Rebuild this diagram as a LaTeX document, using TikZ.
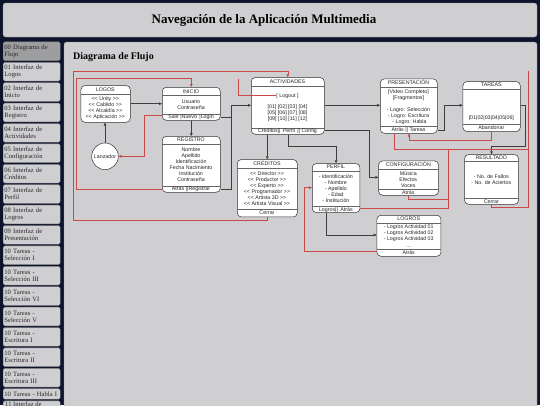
\documentclass[tikz,border=0pt]{standalone}
\usepackage{fontspec}
\setmainfont{Liberation Serif}
\newfontfamily\dsans{Liberation Sans}
\usetikzlibrary{arrows.meta}
\definecolor{bgnavy}{RGB}{14,20,46}
\definecolor{panel}{RGB}{207,207,210}
\definecolor{selbtn}{RGB}{158,158,160}
\definecolor{rline}{RGB}{205,72,72}
\definecolor{bline}{RGB}{62,62,62}
\newcommand\LL{\textless\textless}
\newcommand\GG{\textgreater\textgreater}
\newcommand\flt[4]{\node[txt] (#1) at (#2,#3) {#4};}
\tikzset{
 panelbox/.style={fill=panel, draw=black!45, line width=0.4pt, rounded corners=2.5pt},
 navbtn/.style={fill=panel, draw=black!50, line width=0.4pt, rounded corners=1.5pt, inner sep=0pt,
   anchor=north west, minimum width=57pt, text width=54.5pt, align=left,
   font=\fontsize{6.6}{7}\selectfont, text=black!85},
 flowbox/.style={draw=black!80, fill=white, line width=0.5pt, rounded corners=4pt, inner sep=0pt, anchor=north west},
 sepl/.style={draw=black!60, line width=0.35pt},
 txt/.style={inner sep=0pt, font=\dsans\fontsize{5.3}{6}\selectfont, text height=4.2pt, text depth=0.6pt, text=black!85},
 blk/.style={draw=bline, line width=0.45pt, -{Triangle[length=3pt,width=2.6pt]}},
 blkn/.style={draw=bline, line width=0.45pt},
 rd/.style={draw=rline, line width=0.45pt, -{Triangle[length=3pt,width=2.6pt]}},
 rdn/.style={draw=rline, line width=0.45pt},
}
\begin{document}
\begin{tikzpicture}[x=1pt,y=-1pt]
\useasboundingbox (0,0) rectangle (540,405);
\fill[bgnavy] (0,0) rectangle (540,405);
% panels
\draw[panelbox] (3,3) rectangle (537,37);
\node[font=\bfseries\fontsize{13}{15}\selectfont, inner sep=0pt] (title) at (264,20.5) {Navegación de la Aplicación Multimedia};
\draw[panelbox] (64,42) rectangle (537,415);
\node[font=\bfseries\fontsize{10}{12}\selectfont, inner sep=0pt, anchor=west] (subtitle) at (73,57.5) {Diagrama de Flujo};
% sidebar
\node[navbtn, fill=selbtn, minimum height=18.7pt] (nav0) at (3,41.7) {00 Diagrama de\\Flujo};
\foreach \i/\t in {1/01 Interfaz de\\Logos, 2/02 Interfaz de\\Inicio, 3/03 Interfaz de\\Registro,
  4/04 Interfaz de\\Actividades, 5/05 Interfaz de\\Configuración, 6/06 Interfaz de\\Créditos,
  7/07 Interfaz de\\Perfil, 8/08 Interfaz de\\Logros, 9/09 Interfaz de\\Presentación,
  10/10 Tareas -\\Selección I, 11/10 Tareas -\\Selección III, 12/10 Tareas -\\Selección VI,
  13/10 Tareas -\\Selección V, 14/10 Tareas -\\Escritura I, 15/10 Tareas -\\Escritura II,
  16/10 Tareas -\\Escritura III}{
  \node[navbtn, minimum height=18.7pt] (nav\i) at (3,41.7+20.4*\i) {\t};
}
\node[navbtn, minimum height=10.5pt] (nav17) at (3,388.5) {10 Tareas - Habla I};
\node[navbtn, minimum height=10pt] (nav18) at (3,400.6) {};
\node[anchor=north west, inner sep=0pt, font=\fontsize{6.6}{7}\selectfont, text=black!85] (nav18t) at (5,401.2) {11 Interfaz de};

% ---------- boxes ----------
% LOGOS
\node[flowbox, minimum width=49.3pt, minimum height=36.7pt] (logos) at (80.7,85.3) {};
\draw[sepl] (logos.west |- 0,93.7) -- (logos.east |- 0,93.7);
\flt{lgT}{105.35}{89.6}{LOGOS}
\flt{lg1}{105.35}{98.7}{\LL{} Unity \GG}
\flt{lg2}{105.35}{104.7}{\LL{} Cabildo \GG}
\flt{lg3}{105.35}{110.7}{\LL{} Alcaldía \GG}
\flt{lg4}{105.35}{116.7}{\LL{} Aplicación \GG}
% Lanzador
\node[draw=black!80, fill=white, circle, line width=0.5pt, minimum size=26.6pt, inner sep=0pt, font=\dsans\fontsize{5.3}{6}\selectfont, text=black!85] (lanz) at (105,156.3) {Lanzador};
% INICIO
\node[flowbox, minimum width=58pt, minimum height=33pt] (inicio) at (162,87) {};
\draw[sepl] (inicio.west |- 0,95) -- (inicio.east |- 0,95);
\draw[sepl] (inicio.west |- 0,113.7) -- (inicio.east |- 0,113.7);
\flt{inT}{191}{91.2}{INICIO}
\flt{in1}{191}{101.7}{Usuario}
\flt{in2}{191}{107.7}{Contraseña}
\flt{inF}{191}{117}{Salir |Nuevo \,|Login}
% REGISTRO
\node[flowbox, minimum width=58pt, minimum height=56pt] (registro) at (162,136) {};
\draw[sepl] (registro.west |- 0,143.7) -- (registro.east |- 0,143.7);
\draw[sepl] (registro.west |- 0,186) -- (registro.east |- 0,186);
\flt{rgT}{191}{139.7}{REGISTRO}
\flt{rg1}{191}{149.7}{Nombre}
\flt{rg2}{191}{155.7}{Apellido}
\flt{rg3}{191}{161.7}{Identificación}
\flt{rg4}{191}{167.7}{Fecha Nacimiento}
\flt{rg5}{191}{173.7}{Institución}
\flt{rg6}{191}{179.7}{Contraseña}
\flt{rgF}{191}{189}{Atrás ||Registrar}
% ACTIVIDADES
\node[flowbox, minimum width=73pt, minimum height=56.7pt] (activ) at (251,77.3) {};
\draw[sepl] (activ.west |- 0,86) -- (activ.east |- 0,86);
\draw[sepl] (activ.west |- 0,127.7) -- (activ.east |- 0,127.7);
\flt{acT}{287.5}{81.8}{ACTIVIDADES}
\flt{actL}{287.5}{95.3}{[ Logout ]}
\flt{ac1}{287.5}{106.7}{[01] [02] [03] [04]}
\flt{ac2}{287.5}{112.7}{[05] [06] [07] [08]}
\flt{ac3}{287.5}{118.7}{[09] [10] [11] [12]}
\flt{acF}{287.5}{130.7}{Créditos|| \,Perfil \,|| Config}
% PRESENTACION
\node[flowbox, minimum width=57pt, minimum height=54.3pt] (pres) at (380,78.7) {};
\draw[sepl] (pres.west |- 0,87.3) -- (pres.east |- 0,87.3);
\draw[sepl] (pres.west |- 0,126.3) -- (pres.east |- 0,126.3);
\flt{prT}{408.5}{83}{PRESENTACIÓN}
\flt{pr1}{408.5}{91.6}{[Video Completo]}
\flt{pr2}{408.5}{97.4}{[Fragmentos]}
\flt{pr3}{408.5}{109.7}{- Logro: Selección}
\flt{pr4}{408.5}{115.7}{- Logro: Escritura}
\flt{pr5}{409.5}{121.7}{- Logro: Habla}
\flt{prF}{408.5}{129.4}{Atrás || Tareas}
% TAREAS
\node[flowbox, minimum width=57.3pt, minimum height=50pt] (tareas) at (462.7,81.3) {};
\draw[sepl] (tareas.west |- 0,88.7) -- (tareas.east |- 0,88.7);
\draw[sepl] (tareas.west |- 0,124) -- (tareas.east |- 0,124);
\flt{taT}{491.35}{84.7}{TAREAS}
\flt{ta1}{491.35}{118}{[01|02|03|04|05|06]}
\flt{taF}{491.35}{127.5}{Abandonar}
% CREDITOS
\node[flowbox, minimum width=60pt, minimum height=57.4pt] (credit) at (237,159.3) {};
\draw[sepl] (credit.west |- 0,168.3) -- (credit.east |- 0,168.3);
\draw[sepl] (credit.west |- 0,209.3) -- (credit.east |- 0,209.3);
\flt{crT}{267}{164}{CRÉDITOS}
\flt{cr1}{267}{173.5}{\LL{} Director \GG}
\flt{cr2}{267}{179.5}{\LL{} Productor \GG}
\flt{cr3}{267}{185.5}{\LL{} Experto \GG}
\flt{cr4}{267}{191.5}{\LL{} Programador \GG}
\flt{cr5}{267}{197.5}{\LL{} Artista 3D \GG}
\flt{cr6}{267}{203.5}{\LL{} Artista Visual \GG}
\flt{crF}{267}{212.9}{Cerrar}
% PERFIL
\node[flowbox, minimum width=47.7pt, minimum height=49pt] (perfil) at (312,163.3) {};
\draw[sepl] (perfil.west |- 0,170.7) -- (perfil.east |- 0,170.7);
\draw[sepl] (perfil.west |- 0,206) -- (perfil.east |- 0,206);
\flt{peT}{335.85}{166.7}{PERFIL}
\flt{pe1}{335.85}{176.3}{- Identificación}
\flt{pe2}{335.85}{182.3}{- Nombre}
\flt{pe3}{335.85}{188.3}{- Apellido}
\flt{pe4}{335.85}{194.3}{- Edad}
\flt{pe5}{335.85}{200.3}{- Institución}
\flt{peF}{335.85}{209.2}{Logros|| \,Atrás}
% CONFIGURACION
\node[flowbox, minimum width=60pt, minimum height=34.3pt] (config) at (378.3,160.7) {};
\draw[sepl] (config.west |- 0,169.3) -- (config.east |- 0,169.3);
\draw[sepl] (config.west |- 0,189.3) -- (config.east |- 0,189.3);
\flt{coT}{408.3}{165}{CONFIGURACIÓN}
\flt{co1}{408.3}{173.3}{Música}
\flt{co2}{408.3}{179.3}{Efectos}
\flt{co3}{408.3}{185.3}{Voces}
\flt{coF}{408.3}{192.2}{Atrás}
% RESULTADO
\node[flowbox, minimum width=54pt, minimum height=49.7pt] (result) at (464.3,154.3) {};
\draw[sepl] (result.west |- 0,161) -- (result.east |- 0,161);
\draw[sepl] (result.west |- 0,198.3) -- (result.east |- 0,198.3);
\flt{reT}{491.3}{157.7}{RESULTADO}
\flt{re1}{491.3}{176.7}{- No. de Fallos}
\flt{re2}{491.3}{182.7}{- No. de Aciertos}
\flt{reF}{491.3}{201.2}{Cerrar}
% LOGROS
\node[flowbox, minimum width=64pt, minimum height=41pt] (logros) at (376.7,215) {};
\draw[sepl] (logros.west |- 0,222.7) -- (logros.east |- 0,222.7);
\draw[sepl] (logros.west |- 0,249.3) -- (logros.east |- 0,249.3);
\flt{loT}{408.7}{218.4}{LOGROS}
\flt{lo1}{408.7}{227}{- Logros Actividad 01}
\flt{lo2}{408.7}{233}{- Logros Actividad 02}
\flt{lo3}{408.7}{239}{- Logros Actividad 03}
\flt{lo4}{408.7}{245.3}{...}
\flt{loF}{408.7}{252.6}{Atrás}

% ---------- coordinates ----------
\coordinate (j1) at (231,105.3);
\coordinate (j2) at (444,105.3);
\coordinate (j3) at (525,146);
\coordinate (j5) at (369,177.3);
\coordinate (r1) at (76.7,78.7);
\coordinate (r2) at (238.3,78.7);
\coordinate (r3) at (144,156.3);
\coordinate (r4) at (73.3,220);
\coordinate (r5) at (73.3,71.3);
\coordinate (r6) at (528.3,207.7);
\coordinate (r7) at (528.3,71.3);
\coordinate (r8) at (528.3,149);
\coordinate (r9) at (409,140);
\coordinate (r10) at (448.3,149);
\coordinate (r11) at (448.3,199.3);
\coordinate (r12) at (304.3,187.7);

% ---------- black connectors ----------
\draw[blk] (logos.east |- 0,103.7) -- (inicio.west |- 0,103.7);
\draw[blk] (lanz.north) -- (lanz.north |- logos.south);
\draw[blk] (inicio.south) -- (registro.north);
\draw[blkn] (inicio.east |- 0,117) -| (j1);
\draw[blkn] (registro.east |- 0,189.3) -| (j1);
\draw[blk] (j1) -- (activ.west |- j1);
\draw[blk] (activ.east |- 0,105.3) -- (pres.west |- 0,105.3);
\draw[blk] (pres.east |- 0,130.3) -| (j2) -- (tareas.west |- j2);
\draw[blk] (tareas.east |- 0,105.3) -| (j3) -| (result.north);
\draw[blk] (credit.north |- activ.south) -- (credit.north);
\draw[blk] (activ.south) |- (perfil.north |- 0,146) -- (perfil.north);
\draw[blk] (activ.east |- 0,130.3) -| (j5) -- (config.west |- j5);
\draw[blk] (perfil.south -| 326.7,0) |- (logros.west |- 0,235);

% ---------- red connectors ----------
\draw[rd] (registro.west |- 0,189.3) -| (r1) -| (inicio.north);
\draw[rdn] (actL.west) -| (r2);
\draw[rd] (inicio.west |- 0,115.3) -| (r3) -- (lanz.east);
\draw[rd] (credit.south) |- (r4) -- (r5) -| (activ.north);
\draw[rdn] (result.south) |- (r6) -- (r7);
\draw[rdn] (pres.south -| 394,0) |- (r8);
\draw[rd] (tareas.south) |- (r9) -- (pres.south -| r9);
\draw[rdn] (perfil.east |- 0,208.3) -| (r10);
\draw[rdn] (config.south -| 408.3,0) |- (r11);
\draw[rd] (logros.west |- 0,251.7) -| (r12) -- (perfil.west |- r12);
\end{tikzpicture}
\end{document}
